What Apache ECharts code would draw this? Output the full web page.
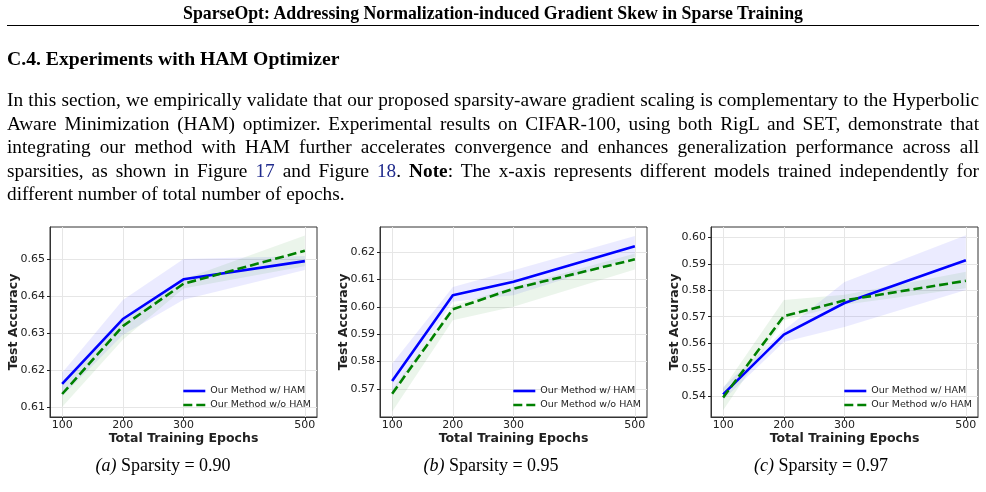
<!DOCTYPE html>
<html>
<head>
<meta charset="utf-8">
<script src="https://cdn.jsdelivr.net/npm/echarts@6/dist/echarts.min.js"></script>
<style>
  html, body { margin: 0; padding: 0; background: #fff; }
  #page { position: relative; width: 986px; height: 492px; overflow: hidden; font-family: "Liberation Serif", "Times New Roman", serif; color: #000; }
  #chart { position: absolute; left: 0; top: 0; width: 986px; height: 492px; }
  .txt { position: absolute; white-space: nowrap; }
  #runhead { left: 0; width: 986px; top: 2px; text-align: center; font-weight: bold; font-size: 17.8px; line-height: 22px; }
  #rule { position: absolute; left: 7px; width: 972px; top: 25px; height: 1px; background: #000; }
  #sec { left: 7px; top: 46px; font-weight: bold; font-size: 19.7px; line-height: 24px; }
  #para { position: absolute; left: 7px; top: 88px; width: 972px; font-size: 19.3px; line-height: 23.5px; }
  #para div { white-space: nowrap; text-align: justify; text-align-last: justify; }
  #para div.last { text-align-last: left; }
  #para a { color: #1f2a8c; text-decoration: none; }
  .cap { top: 454px; font-size: 18px; line-height: 22px; transform: translateX(-50%); }
</style>
</head>
<body>
<div id="page">
  <div id="chart"></div>
  <div class="txt" id="runhead">SparseOpt: Addressing Normalization-induced Gradient Skew in Sparse Training</div>
  <div id="rule"></div>
  <div class="txt" id="sec">C.4. Experiments with HAM Optimizer</div>
  <div id="para">
    <div>In this section, we empirically validate that our proposed sparsity-aware gradient scaling is complementary to the Hyperbolic</div>
    <div>Aware Minimization (HAM) optimizer. Experimental results on CIFAR-100, using both RigL and SET, demonstrate that</div>
    <div>integrating our method with HAM further accelerates convergence and enhances generalization performance across all</div>
    <div>sparsities, as shown in Figure <a>17</a> and Figure <a>18</a>. <b>Note</b>: The x-axis represents different models trained independently for</div>
    <div class="last">different number of total number of epochs.</div>
  </div>
  <div class="txt cap" style="left:163px"><i>(a)</i> Sparsity = 0.90</div>
  <div class="txt cap" style="left:491px"><i>(b)</i> Sparsity = 0.95</div>
  <div class="txt cap" style="left:821px"><i>(c)</i> Sparsity = 0.97</div>
</div>
<script>
// x values: total training epochs
const epochs = [100, 200, 300, 500]

// (a) sparsity 0.90
const hamA = [0.6163, 0.6338, 0.6445, 0.6494]
const hamA_lo = [0.6130, 0.6295, 0.6390, 0.6470]
const hamA_hi = [0.6193, 0.6389, 0.6500, 0.6508]
const noHamA = [0.6136, 0.6319, 0.6433, 0.6522]
const noHamA_lo = [0.6101, 0.6282, 0.6420, 0.6480]
const noHamA_hi = [0.6165, 0.6335, 0.6445, 0.6563]
const yTicksA = [0.61, 0.62, 0.63, 0.64, 0.65]

// (b) sparsity 0.95
const hamB = [0.5729, 0.6042, 0.6091, 0.6221]
const hamB_lo = [0.5680, 0.6018, 0.6042, 0.6182]
const hamB_hi = [0.5792, 0.6072, 0.6133, 0.6258]
const noHamB = [0.5683, 0.5991, 0.6066, 0.6173]
const noHamB_lo = [0.5617, 0.5951, 0.6000, 0.6136]
const noHamB_hi = [0.5697, 0.6005, 0.6072, 0.6194]
const yTicksB = [0.57, 0.58, 0.59, 0.60, 0.61, 0.62]

// (c) sparsity 0.97
const hamC = [0.5406, 0.5632, 0.5752, 0.5914]
const hamC_lo = [0.5384, 0.5604, 0.5661, 0.5801]
const hamC_hi = [0.5434, 0.5649, 0.5832, 0.6009]
const noHamC = [0.5394, 0.5702, 0.5762, 0.5836]
const noHamC_lo = [0.5346, 0.5687, 0.5745, 0.5808]
const noHamC_hi = [0.5428, 0.5763, 0.5783, 0.5870]
const yTicksC = [0.54, 0.55, 0.56, 0.57, 0.58, 0.59, 0.60]

const NAME_HAM = 'Our Method w/ HAM'
const NAME_NOHAM = 'Our Method w/o HAM'
const FONT = 'DejaVu Sans'

const panels = [
    {left: 50, yMin: 0.6074, yMax: 0.6586, ticks: yTicksA, ham: hamA, hamLo: hamA_lo, hamHi: hamA_hi, no: noHamA, noLo: noHamA_lo, noHi: noHamA_hi, legendLeft: 182},
    {left: 380, yMin: 0.5598, yMax: 0.6291, ticks: yTicksB, ham: hamB, hamLo: hamB_lo, hamHi: hamB_hi, no: noHamB, noLo: noHamB_lo, noHi: noHamB_hi, legendLeft: 512},
    {left: 711, yMin: 0.5320, yMax: 0.6040, ticks: yTicksC, ham: hamC, hamLo: hamC_lo, hamHi: hamC_hi, no: noHamC, noLo: noHamC_lo, noHi: noHamC_hi, legendLeft: 843}
]

function pairs(ys) {
    return epochs.map(function (x, i) { return [x, ys[i]] })
}

// shaded band: one polygon drawn at the first item, using every row [x, lo, hi]
function bandSeries(idx, lo, hi, color) {
    return {
        type: 'custom', xAxisIndex: idx, yAxisIndex: idx, silent: true, clip: true,
        data: epochs.map(function (x, i) { return [x, lo[i], hi[i]] }),
        encode: {x: 0, y: [1, 2]},
        renderItem: function (params, api) {
            if (params.dataIndexInside !== 0) return null
            const n = params.dataInsideLength
            const top = [], bottom = []
            for (let i = 0; i < n; i++) {
                top.push(api.coord([api.value(0, i), api.value(2, i)]))
                bottom.unshift(api.coord([api.value(0, i), api.value(1, i)]))
            }
            return {
                type: 'polygon',
                shape: {points: top.concat(bottom)},
                style: {fill: color, stroke: null}
            }
        }
    }
}

const grids = [], xAxes = [], yAxes = [], legends = [], series = []

panels.forEach(function (p, idx) {
    grids.push({left: p.left, top: 227, width: 267, height: 190, show: true, borderColor: '#333', borderWidth: 1})
    xAxes.push({
        type: 'value', gridIndex: idx, min: 80, max: 520,
        name: 'Total Training Epochs', nameLocation: 'middle', nameGap: 12,
        nameTextStyle: {fontFamily: FONT, fontSize: 12.5, fontWeight: 'bold', color: '#222'},
        axisLine: {show: true, lineStyle: {color: '#333', width: 1}},
        axisTick: {show: true, length: 3, customValues: epochs, lineStyle: {color: '#222', width: 1}},
        axisLabel: {customValues: epochs, margin: 3, fontFamily: FONT, fontSize: 11, color: '#222'},
        splitLine: {show: true, lineStyle: {color: '#e6e6e6', width: 1}}
    })
    yAxes.push({
        type: 'value', gridIndex: idx, min: p.yMin, max: p.yMax,
        name: 'Test Accuracy', nameLocation: 'middle', nameGap: 30, nameMoveOverlap: false,
        nameTextStyle: {fontFamily: FONT, fontSize: 12.5, fontWeight: 'bold', color: '#222'},
        axisLine: {show: true, lineStyle: {color: '#333', width: 1}},
        axisTick: {show: true, length: 3, customValues: p.ticks, lineStyle: {color: '#222', width: 1}},
        axisLabel: {customValues: p.ticks, margin: 5, fontFamily: FONT, fontSize: 11, color: '#222',
            formatter: function (v) { return v.toFixed(2) }},
        splitLine: {show: true, lineStyle: {color: '#e6e6e6', width: 1}}
    })
    legends.push({
        data: [NAME_HAM, NAME_NOHAM], orient: 'vertical', left: p.legendLeft, top: 386,
        itemWidth: 22, itemHeight: 10, itemGap: 4, padding: 0,
        itemStyle: {opacity: 0, borderWidth: 0},
        lineStyle: {width: 2.6},
        textStyle: {fontFamily: FONT, fontSize: 9.5, color: '#222'}
    })
    series.push(bandSeries(idx, p.hamLo, p.hamHi, 'rgba(0,0,255,0.08)'))
    series.push(bandSeries(idx, p.noLo, p.noHi, 'rgba(0,128,0,0.08)'))
    series.push({
        name: NAME_HAM, type: 'line', xAxisIndex: idx, yAxisIndex: idx, data: pairs(p.ham),
        symbol: 'none', color: '#0000ff', lineStyle: {color: '#0000ff', width: 2.6}
    })
    series.push({
        name: NAME_NOHAM, type: 'line', xAxisIndex: idx, yAxisIndex: idx, data: pairs(p.no),
        symbol: 'none', color: '#008000', lineStyle: {color: '#008000', width: 2.6, type: [9, 4]}
    })
})

const chart = echarts.init(document.getElementById('chart'))
chart.setOption({
    animation: false,
    grid: grids,
    xAxis: xAxes,
    yAxis: yAxes,
    legend: legends,
    series: series
})
</script>
</body>
</html>
